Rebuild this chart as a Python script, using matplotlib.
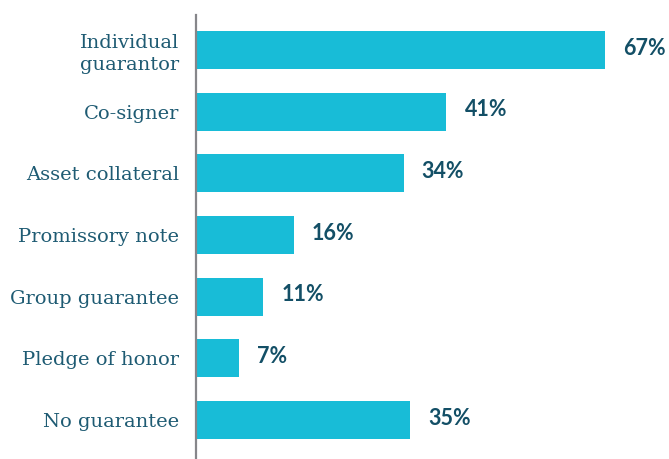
import matplotlib.pyplot as plt

# Guarantee types and share of respondents (%)
categories = ["Individual\nguarantor", "Co-signer", "Asset collateral",
              "Promissory note", "Group guarantee", "Pledge of honor",
              "No guarantee"]
shares = [67, 41, 34, 16, 11, 7, 35]

bar_color = "#18BCD7"
label_color = "#1E5B73"
value_color = "#134F66"

fig = plt.figure(figsize=(6.69, 4.59), dpi=100)
ax = fig.add_axes([196 / 669, 0, 473 / 669, 444 / 459])

pos = list(range(len(categories)))
ax.barh(pos, shares, height=0.616, color=bar_color, left=0)

# value labels to the right of each bar
for y, v in zip(pos, shares):
    ax.text(v + 3.0, y - 0.03, f"{v}%", va="center", ha="left",
            fontsize=15.5, fontweight="bold", color=value_color,
            family="Lato")

ax.set_xlim(0, 77.5)
ax.set_ylim(6.632, -0.568)

ax.set_yticks(pos)
ax.set_yticklabels(categories, fontsize=14, color=label_color,
                   family="DejaVu Serif", linespacing=1.25)
ax.tick_params(axis="y", length=0, pad=12)
ax.set_xticks([])

for side in ["top", "right", "bottom"]:
    ax.spines[side].set_visible(False)
ax.spines["left"].set_color("#86868A")
ax.spines["left"].set_linewidth(1.6)

fig.savefig("out.png", dpi=100)
